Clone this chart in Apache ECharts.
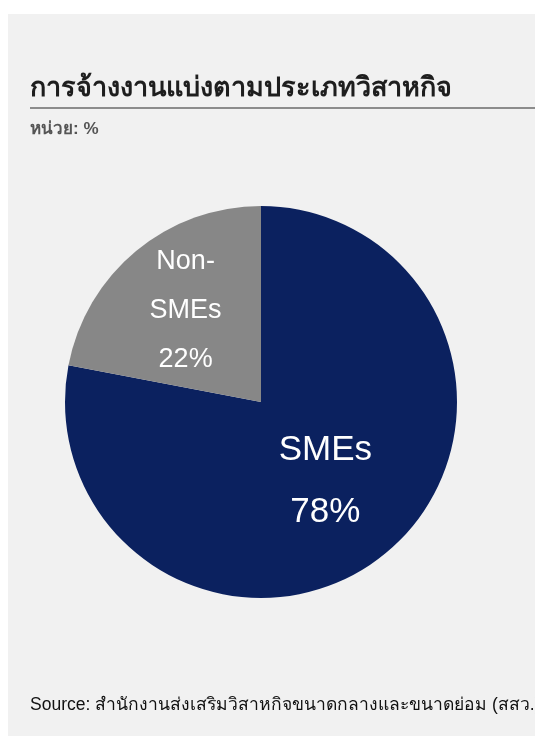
<!DOCTYPE html>
<html>
<head>
<meta charset="utf-8">
<style>
  html, body { margin: 0; padding: 0; background: #ffffff; }
  #chart { width: 535px; height: 736px; }
</style>
<script src="https://cdn.jsdelivr.net/npm/echarts@6/dist/echarts.min.js"></script>
</head>
<body>
<div id="chart"></div>
<script>
// Employment split by enterprise type (percent)
const categories = ['SMEs', 'Non-SMEs'];
const labelNames = ['SMEs', 'Non-\nSMEs'];
const shares = [78, 22];
const colors = ['#0b215f', '#878787'];

const titleText = 'การจ้างงานแบ่งตามประเภทวิสาหกิจ';
const unitText = 'หน่วย: %';
const sourceText = 'Source: สำนักงานส่งเสริมวิสาหกิจขนาดกลางและขนาดย่อม (สสว.)';

const chart = echarts.init(document.getElementById('chart'), null, { renderer: 'canvas' });

const labelStyles = [
  { fontSize: 35, lineHeight: 62, offset: [0, 2] },
  { fontSize: 27, lineHeight: 49, offset: [-11, -14] }
];

const sans = 'Liberation Sans, Arial, sans-serif';

chart.setOption({
  backgroundColor: '#ffffff',
  animation: false,
  title: [
    {
      text: titleText,
      left: 30, top: 75, padding: 0,
      textStyle: { fontFamily: sans, fontSize: 27, fontWeight: 'bold', color: '#1e1e1e' }
    },
    {
      text: unitText,
      left: 30, top: 121, padding: 0,
      textStyle: { fontFamily: sans, fontSize: 17, fontWeight: 'bold', color: '#555555' }
    },
    {
      text: sourceText,
      left: 30, top: 696, padding: 0,
      textStyle: { fontFamily: sans, fontSize: 17.5, fontWeight: 'normal', color: '#111111' }
    }
  ],
  graphic: [
    { type: 'rect', z: -10, shape: { x: 8, y: 14, width: 527, height: 722 }, style: { fill: '#f1f1f1' } },
    { type: 'line', z: -5, shape: { x1: 30, y1: 108, x2: 535, y2: 108 }, style: { stroke: '#8c8c8c', lineWidth: 2 } }
  ],
  series: [{
    type: 'pie',
    center: [261, 402],
    radius: [0, 196],
    startAngle: 90,
    clockwise: true,
    silent: true,
    label: {
      show: true,
      position: 'inside',
      color: '#ffffff',
      fontFamily: sans
    },
    labelLine: { show: false },
    data: categories.map((name, i) => ({
      name: name,
      value: shares[i],
      itemStyle: { color: colors[i] },
      label: {
        formatter: labelNames[i] + '\n' + shares[i] + '%',
        fontSize: labelStyles[i].fontSize,
        lineHeight: labelStyles[i].lineHeight,
        offset: labelStyles[i].offset
      }
    }))
  }]
});
</script>
</body>
</html>
